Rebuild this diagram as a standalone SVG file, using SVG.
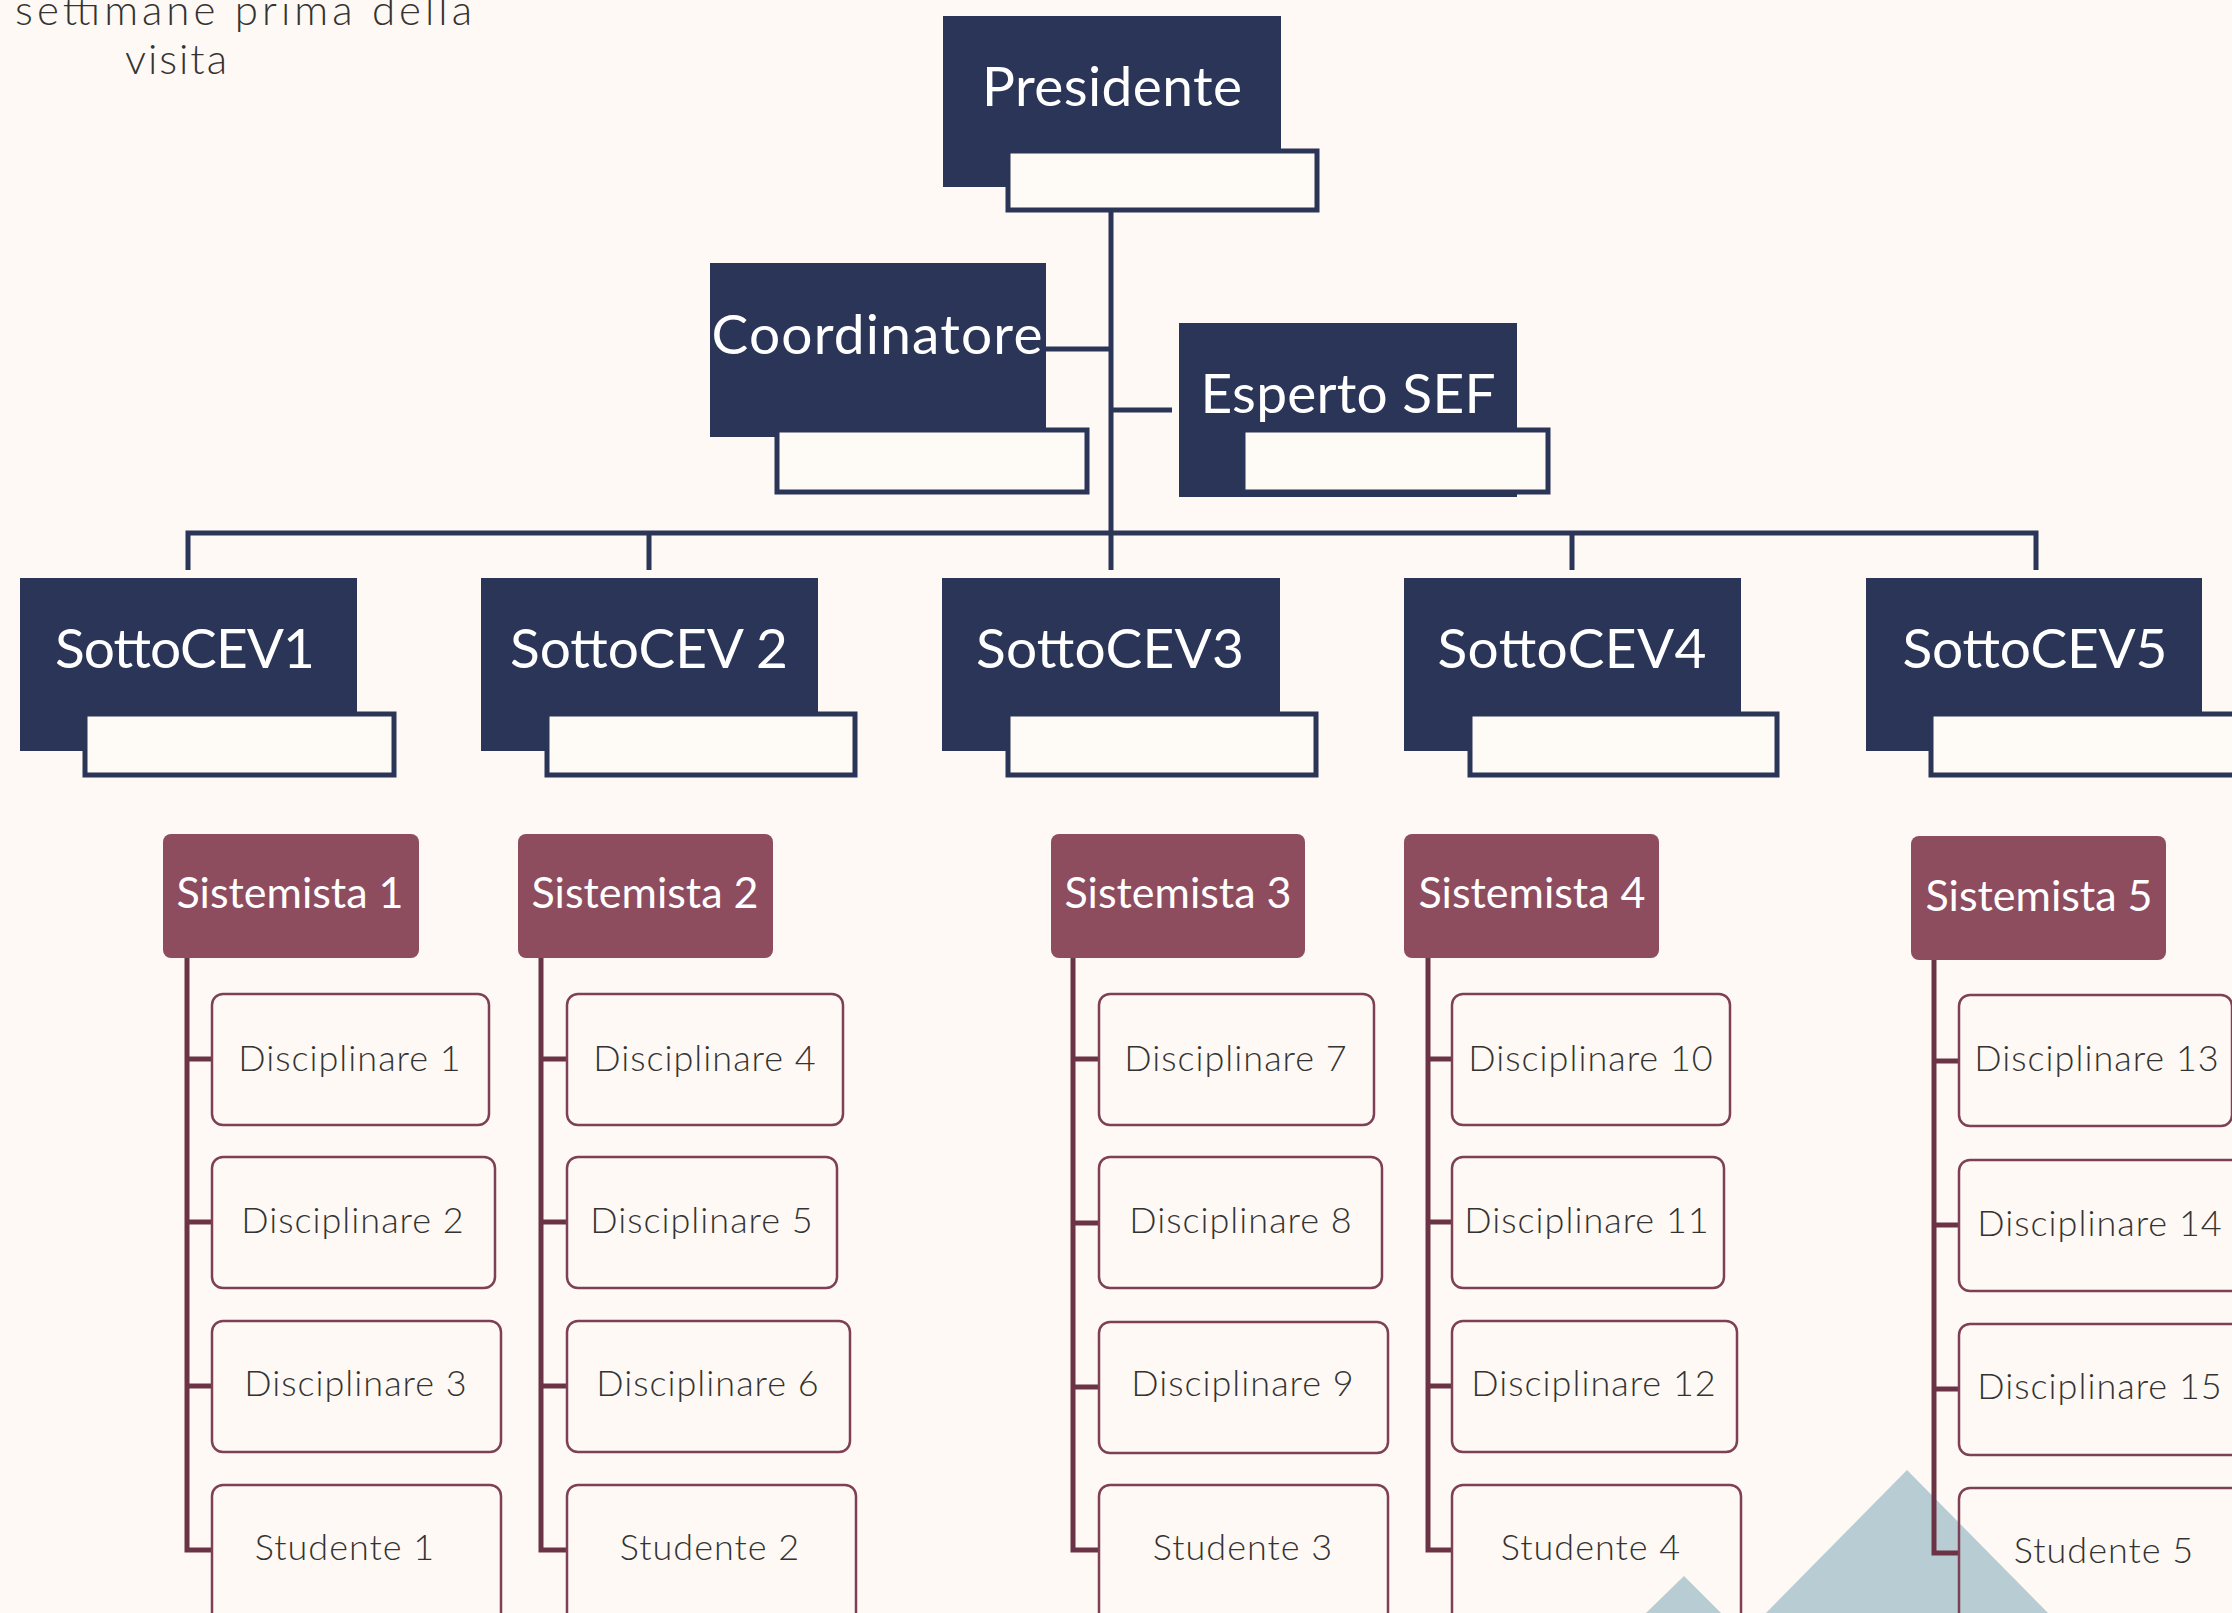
<svg xmlns="http://www.w3.org/2000/svg" width="2232" height="1613" viewBox="0 0 2232 1613">
<style>
.bg{fill:#FEF9F4}
.navy{fill:#2B3557}
.card{fill:#FEFAF5;stroke:#2B3557;stroke-width:5}
.tn{font-family:Lato,"Open Sans",sans-serif;font-size:55px;fill:#FFFFFF;text-anchor:middle}
.sis{fill:#8E4C5F}
.ts{font-family:Lato,"Open Sans",sans-serif;font-size:43px;fill:#FFFFFF;text-anchor:middle}
.disc{fill:none;stroke:#7E4054;stroke-width:2.5}
.td{font-family:Lato,"Open Sans",sans-serif;font-weight:300;font-size:36px;letter-spacing:1px;fill:#333333;text-anchor:middle}
.cn{fill:none;stroke:#2B3557;stroke-width:5}
.cm{fill:none;stroke:#6A3446;stroke-width:5}
.tri{fill:#B8CCD3}
.tt{font-family:Lato,"Open Sans",sans-serif;font-weight:300;font-size:42px;fill:#333333}
</style>
<rect class="bg" x="0" y="0" width="2232" height="1613"/>
<g id="decor">
<polygon class="tri" points="1907,1470 1766,1613 2048,1613"/>
<polygon class="tri" points="1684,1576 1646,1613 1721,1613"/>
</g>
<g id="title">
<text class="tt" x="15" y="25" textLength="457">settimane prima della</text>
<text class="tt" x="125" y="74" textLength="102">visita</text>
</g>
<g id="connectors">
<path class="cn" d="M1111,212 V570"/>
<path class="cn" d="M1046,349 H1111"/>
<path class="cn" d="M1111,410 H1172"/>
<path class="cn" d="M188,570 V533 H2036 V570"/>
<path class="cn" d="M649,533 V570"/>
<path class="cn" d="M1572,533 V570"/>
<path class="cm" d="M187,958 V1550 H212 M187,1059 H212 M187,1222 H212 M187,1386 H212"/>
<path class="cm" d="M541,958 V1550 H567 M541,1059 H567 M541,1222 H567 M541,1386 H567"/>
<path class="cm" d="M1073,958 V1550 H1099 M1073,1059 H1099 M1073,1223 H1099 M1073,1387 H1099"/>
<path class="cm" d="M1428,958 V1550 H1452 M1428,1059 H1452 M1428,1222 H1452 M1428,1386 H1452"/>
<path class="cm" d="M1934,960 V1553 H1959 M1934,1061 H1959 M1934,1225 H1959 M1934,1389 H1959"/>
</g>
<g id="presidente">
<rect class="navy" x="943" y="16" width="338" height="171"/>
<rect class="card" x="1008" y="151" width="309" height="59"/>
<text class="tn" x="1112" y="106" textLength="260">Presidente</text>
</g>
<g id="coordinatore">
<rect class="navy" x="710" y="263" width="336" height="174"/>
<rect class="card" x="777" y="430" width="310" height="62"/>
<text class="tn" x="877" y="354" textLength="331">Coordinatore</text>
</g>
<g id="esperto-sef">
<rect class="navy" x="1179" y="323" width="338" height="174"/>
<rect class="card" x="1243" y="430" width="305" height="62"/>
<text class="tn" x="1348" y="413" textLength="295">Esperto SEF</text>
</g>
<g id="sottocev1">
<rect class="navy" x="20" y="578" width="337" height="173"/>
<rect class="card" x="85" y="714" width="309" height="61"/>
<text class="tn" x="185" y="668" textLength="260">SottoCEV1</text>
</g>
<g id="sottocev2">
<rect class="navy" x="481" y="578" width="337" height="173"/>
<rect class="card" x="547" y="714" width="308" height="61"/>
<text class="tn" x="649" y="668" textLength="278">SottoCEV 2</text>
</g>
<g id="sottocev3">
<rect class="navy" x="942" y="578" width="338" height="173"/>
<rect class="card" x="1008" y="714" width="308" height="61"/>
<text class="tn" x="1110" y="668" textLength="268">SottoCEV3</text>
</g>
<g id="sottocev4">
<rect class="navy" x="1404" y="578" width="337" height="173"/>
<rect class="card" x="1470" y="714" width="307" height="61"/>
<text class="tn" x="1572" y="668" textLength="269">SottoCEV4</text>
</g>
<g id="sottocev5">
<rect class="navy" x="1866" y="578" width="336" height="173"/>
<rect class="card" x="1931" y="714" width="310" height="61"/>
<text class="tn" x="2035" y="668" textLength="265">SottoCEV5</text>
</g>
<g id="sistemista1"><rect class="sis" x="163" y="834" width="256" height="124" rx="8"/><text class="ts" x="290" y="908">Sistemista 1</text></g>
<g id="sistemista2"><rect class="sis" x="518" y="834" width="255" height="124" rx="8"/><text class="ts" x="645" y="908">Sistemista 2</text></g>
<g id="sistemista3"><rect class="sis" x="1051" y="834" width="254" height="124" rx="8"/><text class="ts" x="1178" y="908">Sistemista 3</text></g>
<g id="sistemista4"><rect class="sis" x="1404" y="834" width="255" height="124" rx="8"/><text class="ts" x="1532" y="908">Sistemista 4</text></g>
<g id="sistemista5"><rect class="sis" x="1911" y="836" width="255" height="124" rx="8"/><text class="ts" x="2039" y="911">Sistemista 5</text></g>
<g id="disciplinare1"><rect class="disc" x="212" y="994" width="277" height="131" rx="11"/><text class="td" x="350" y="1071">Disciplinare 1</text></g>
<g id="disciplinare2"><rect class="disc" x="212" y="1157" width="283" height="131" rx="11"/><text class="td" x="353" y="1233">Disciplinare 2</text></g>
<g id="disciplinare3"><rect class="disc" x="212" y="1321" width="289" height="131" rx="11"/><text class="td" x="356" y="1396">Disciplinare 3</text></g>
<g id="studente1"><rect class="disc" x="212" y="1485" width="289" height="140" rx="11"/><text class="td" x="345" y="1560">Studente 1</text></g>
<g id="disciplinare4"><rect class="disc" x="567" y="994" width="276" height="131" rx="11"/><text class="td" x="705" y="1071">Disciplinare 4</text></g>
<g id="disciplinare5"><rect class="disc" x="567" y="1157" width="270" height="131" rx="11"/><text class="td" x="702" y="1233">Disciplinare 5</text></g>
<g id="disciplinare6"><rect class="disc" x="567" y="1321" width="283" height="131" rx="11"/><text class="td" x="708" y="1396">Disciplinare 6</text></g>
<g id="studente2"><rect class="disc" x="567" y="1485" width="289" height="140" rx="11"/><text class="td" x="710" y="1560">Studente 2</text></g>
<g id="disciplinare7"><rect class="disc" x="1099" y="994" width="275" height="131" rx="11"/><text class="td" x="1236" y="1071">Disciplinare 7</text></g>
<g id="disciplinare8"><rect class="disc" x="1099" y="1157" width="283" height="131" rx="11"/><text class="td" x="1241" y="1233">Disciplinare 8</text></g>
<g id="disciplinare9"><rect class="disc" x="1099" y="1322" width="289" height="131" rx="11"/><text class="td" x="1243" y="1396">Disciplinare 9</text></g>
<g id="studente3"><rect class="disc" x="1099" y="1485" width="289" height="140" rx="11"/><text class="td" x="1243" y="1560">Studente 3</text></g>
<g id="disciplinare10"><rect class="disc" x="1452" y="994" width="278" height="131" rx="11"/><text class="td" x="1591" y="1071">Disciplinare 10</text></g>
<g id="disciplinare11"><rect class="disc" x="1452" y="1157" width="272" height="131" rx="11"/><text class="td" x="1587" y="1233">Disciplinare 11</text></g>
<g id="disciplinare12"><rect class="disc" x="1452" y="1321" width="285" height="131" rx="11"/><text class="td" x="1594" y="1396">Disciplinare 12</text></g>
<g id="studente4"><rect class="disc" x="1452" y="1485" width="289" height="140" rx="11"/><text class="td" x="1591" y="1560">Studente 4</text></g>
<g id="disciplinare13"><rect class="disc" x="1959" y="995" width="273" height="131" rx="11"/><text class="td" x="2097" y="1071">Disciplinare 13</text></g>
<g id="disciplinare14"><rect class="disc" x="1959" y="1160" width="290" height="131" rx="11"/><text class="td" x="2100" y="1236">Disciplinare 14</text></g>
<g id="disciplinare15"><rect class="disc" x="1959" y="1324" width="290" height="131" rx="11"/><text class="td" x="2100" y="1399">Disciplinare 15</text></g>
<g id="studente5"><rect class="disc" x="1959" y="1488" width="290" height="140" rx="11"/><text class="td" x="2104" y="1563">Studente 5</text></g>
</svg>
